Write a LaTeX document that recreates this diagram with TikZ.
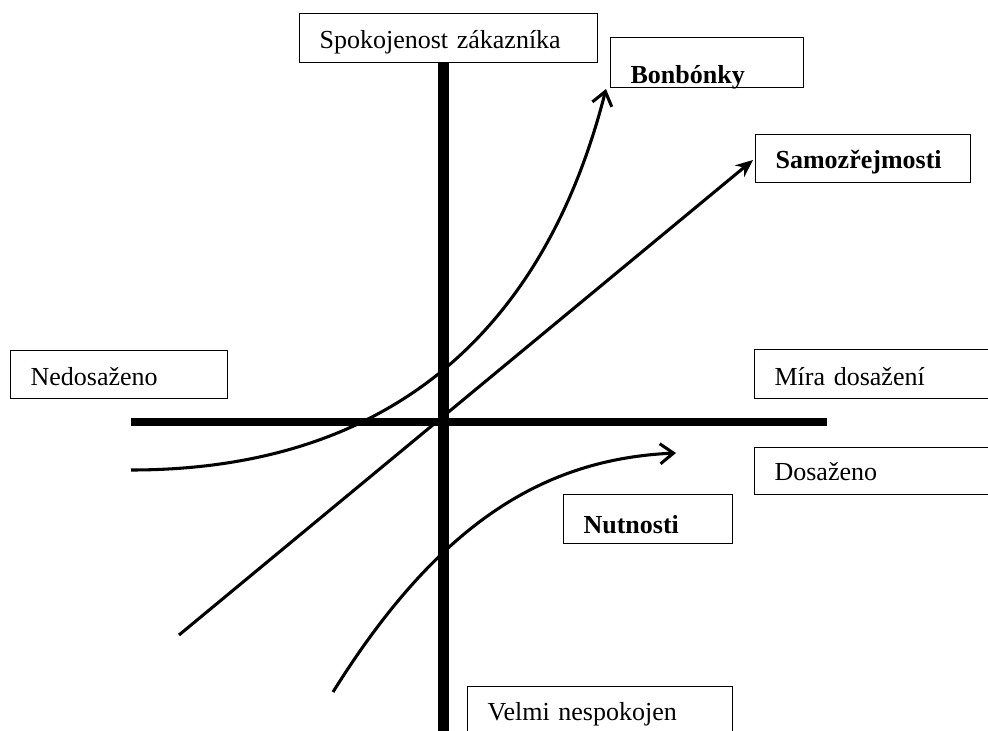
\documentclass[tikz,border=0pt]{standalone}
\usepackage{fontspec}
\setmainfont{Liberation Serif}
\usetikzlibrary{arrows.meta}
\newcommand\lowtext[2]{\raisebox{-#1pt}[0pt][0pt]{#2}}
\begin{document}
\begin{tikzpicture}[x=0.75pt,y=-0.75pt,
  lbl/.style={draw, line width=0.9pt, anchor=north west, inner xsep=15pt, inner ysep=0pt,
    align=left, font=\fontsize{19.5}{22}\selectfont},
  blbl/.style={lbl, font=\fontsize{19.5}{22}\selectfont\bfseries},
  curve/.style={line width=2.3pt},
  chev/.style={-{Straight Barb[length=10pt,width=15pt,line width=2.3pt]}},
  axis/.style={line width=#1}
]
\useasboundingbox (0,0) rectangle (988,731);
\clip (0,0) rectangle (988,731);
\fill[white] (0,0) rectangle (988,731);

% boxes
\node[lbl, text width=258*0.75pt, minimum height=49*0.75pt] (spok) at (299,13) {\lowtext{7.9}{Spokojenost zákazníka}};
\node[blbl, text width=153*0.75pt, minimum height=50*0.75pt] (bon) at (610,37) {\lowtext{15.5}{Bonbónky}};
\node[blbl, text width=175*0.75pt, minimum height=48*0.75pt] (sam) at (755,134) {\lowtext{7.5}{Samozřejmosti}};
\node[lbl, text width=177*0.75pt, minimum height=48*0.75pt] (ned) at (10,350) {\lowtext{8.3}{Nedosaženo}};
\node[lbl, text width=200*0.75pt, minimum height=49*0.75pt] (mira) at (754,349) {\lowtext{8.6}{Míra dosažení}};
\node[lbl, text width=200*0.75pt, minimum height=47*0.75pt] (dos) at (754,447) {\lowtext{7.1}{Dosaženo}};
\node[blbl, text width=129*0.75pt, minimum height=49*0.75pt] (nut) at (563,494) {\lowtext{10.9}{Nutnosti}};
\node[lbl, text width=225*0.75pt, minimum height=50*0.75pt] (velmi) at (467,686) {\lowtext{6.8}{Velmi nespokojen}};

% axes
\coordinate (xl) at (131,422);
\coordinate (xr) at (827,422);
\coordinate (yb) at (443.5,740);
\draw[axis=6pt] (xl) -- (xr);
\draw[axis=8.5pt] (spok.south -| yb) -- (yb);

% straight line (Samozřejmosti)
\coordinate (s0) at (179,635);
\coordinate (s1) at (753,160);
\draw[curve, -{Stealth[length=13pt,width=11pt]}] (s0) -- (s1);

% Bonbónky curve
\coordinate (b0) at (131,470);
\coordinate (b1) at (606,89);
\draw[curve, chev] (b0) .. controls (381,470) and (542,340) .. (b1);

% Nutnosti curve
\coordinate (n0) at (333,692);
\coordinate (n1) at (676,453);
\draw[curve, chev] (n0) .. controls (439,522) and (545,459) .. (n1);
\end{tikzpicture}
\end{document}
